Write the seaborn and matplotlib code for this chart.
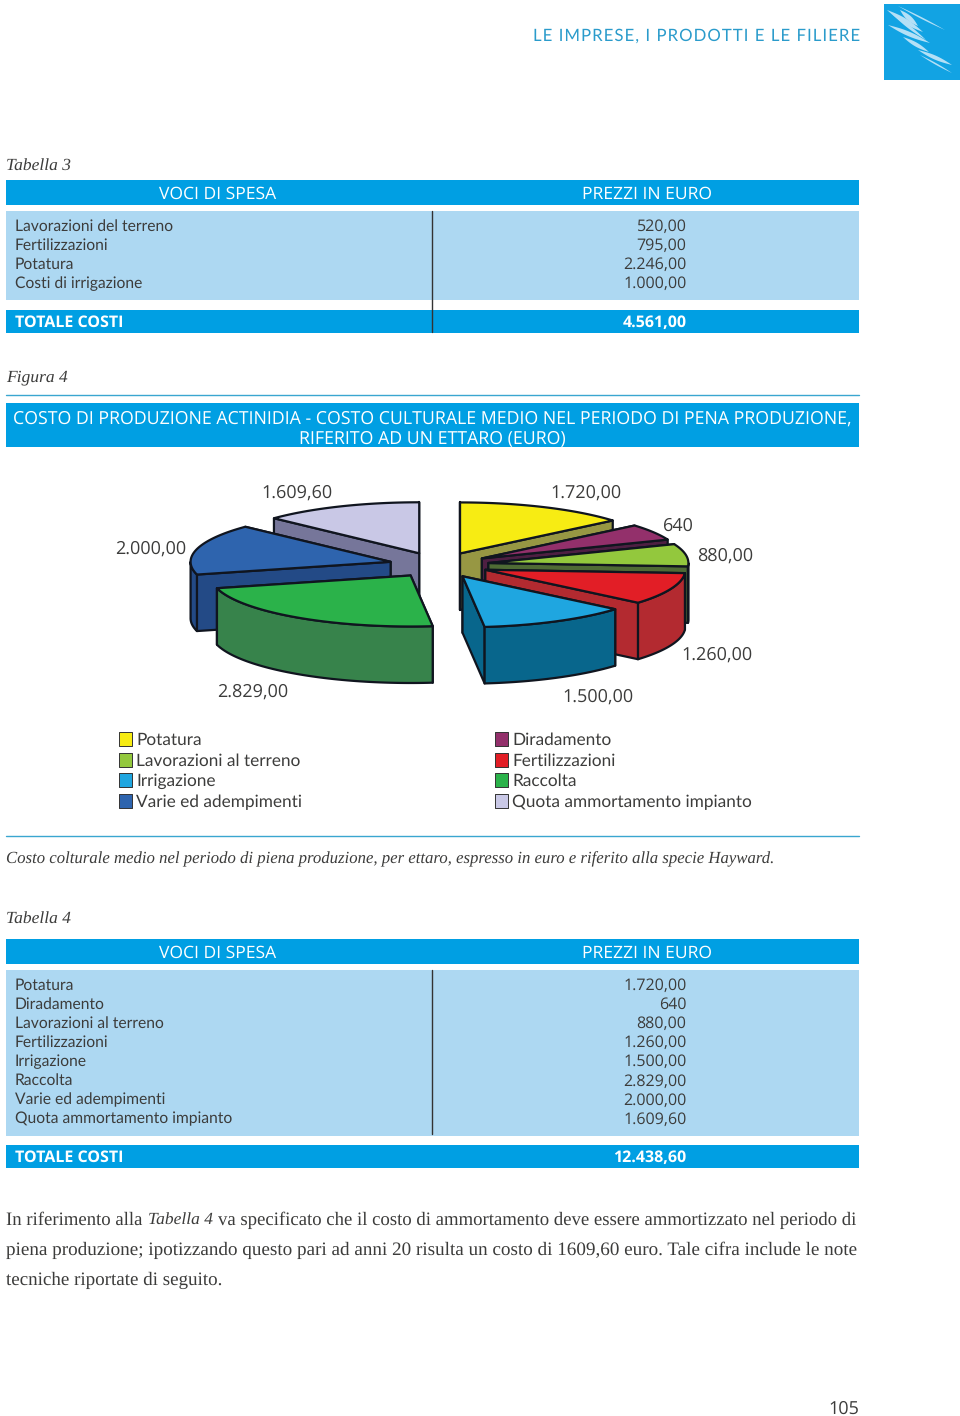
import numpy as np
import pandas as pd
import matplotlib
matplotlib.use('Agg')
import matplotlib.pyplot as plt
from matplotlib.patches import Polygon, Rectangle
import seaborn as sns

# pie data
voci = ['Potatura', 'Diradamento', 'Lavorazioni al terreno', 'Fertilizzazioni',
        'Irrigazione', 'Raccolta', 'Varie ed adempimenti', 'Quota ammortamento impianto']
costi = [1720.00, 640, 880.00, 1260.00, 1500.00, 2829.00, 2000.00, 1609.60]
etichette = ['1.720,00', '640', '880,00', '1.260,00', '1.500,00', '2.829,00', '2.000,00', '1.609,60']
top_colors = ['#F7EC13', '#93306B', '#93C83D', '#E21E26', '#1FA6E0', '#2BB24A', '#2E64AE', '#C9C8E6']
side_colors = ['#979743', '#4E1F42', '#4F6B35', '#B32A30', '#08668C', '#37834B', '#234A86', '#76769A']
label_xy = [(586, 491), (678, 524), (725, 554), (717, 653), (598, 695), (253, 690), (151, 547), (297, 491)]

# tables
t3_voci = ['Lavorazioni del terreno', 'Fertilizzazioni', 'Potatura', 'Costi di irrigazione']
t3_prezzi = ['520,00', '795,00', '2.246,00', '1.000,00']
t3_totale = '4.561,00'
t4_voci = voci
t4_prezzi = etichette
t4_totale = '12.438,60'

BLUE = '#009FE3'
LIGHT = '#ADD8F2'
INK = '#3C3C3B'
SANS = ['Open Sans', 'DejaVu Sans']
LOWER = 'Lato'
SERIF = 'Liberation Serif'

sns.set_theme(style='white')
plt.rcParams['font.family'] = SANS
plt.rcParams['text.hinting'] = 'no_hinting'

fig = plt.figure(figsize=(9.6, 14.16), dpi=100)
ax = fig.add_axes([0, 0, 1, 1])


def txt(x, y, s, size=16, color=INK, ha='left', **kw):
    # y is the middle of the capitals, size in pixels
    return ax.text(x, y + 0.36 * size, s, fontsize=size * 0.72, color=color, ha=ha, va='baseline', **kw)


def box(x0, y0, x1, y1, color):
    ax.add_patch(Rectangle((x0, y0), x1 - x0, y1 - y0, facecolor=color, edgecolor='none', zorder=1))


def table(title, title_y, top, righe, prezzi, totale, body_h, total_top):
    txt(6, title_y, title, size=17.5, family=SERIF, style='italic')
    box(6, top, 859, top + 25, BLUE)
    txt(218, top + 13, 'VOCI DI SPESA', size=17.5, color='white', ha='center')
    txt(647, top + 13, 'PREZZI IN EURO', size=17.5, color='white', ha='center')
    box(6, top + 31, 859, top + 31 + body_h, LIGHT)
    for i, (r, p) in enumerate(zip(righe, prezzi)):
        y = top + 45 + i * 19.15
        txt(15, y, r, size=15.6, family=LOWER)
        txt(686.5, y, p, ha='right')
    box(6, total_top, 859, total_top + 23, BLUE)
    txt(15, total_top + 11.5, 'TOTALE COSTI', color='white', weight='bold')
    txt(686.5, total_top + 11.5, totale, color='white', ha='right', weight='bold')


def pie3d(values, tops, sides, cx=439, cy=565, a=200, b=51, depth=56.5, explode=0.25):
    df = pd.DataFrame({'val': values, 'top': tops, 'side': sides})
    edges = np.cumsum([0] + list(df['val'])) / df['val'].sum() * 2 * np.pi
    df['start'] = edges[:-1]
    df['end'] = edges[1:]
    df['mid'] = (df['start'] + df['end']) / 2
    # back slices first
    df = df.sort_values('mid', key=lambda m: -np.cos(m))
    line = dict(edgecolor='#10151F', linewidth=1.6, joinstyle='round')
    for _, r in df.iterrows():
        ox = cx + explode * a * np.sin(r['mid'])
        oy = cy - explode * b * np.cos(r['mid'])
        th = np.linspace(r['start'], r['end'], 80)
        arc = np.column_stack([ox + a * np.sin(th), oy - b * np.cos(th)])
        apex = np.array([ox, oy])
        drop = np.array([0, depth])
        # the wall further back goes first so the near one covers it
        for end in sorted((arc[0], arc[-1]), key=lambda e: e[1]):
            ax.add_patch(Polygon([apex, end, end + drop, apex + drop], facecolor=r['side'], zorder=3, **line))
        lo, hi = max(r['start'], np.pi / 2), min(r['end'], 3 * np.pi / 2)
        if hi > lo:
            th = np.linspace(lo, hi, 60)
            front = np.column_stack([ox + a * np.sin(th), oy - b * np.cos(th)])
            ax.add_patch(Polygon(np.vstack([front, (front + drop)[::-1]]), facecolor=r['side'], zorder=3, **line))
        ax.add_patch(Polygon(np.vstack([apex, arc]), facecolor=r['top'], zorder=3, **line))


# header
txt(860, 34.5, '\u200a'.join('LE IMPRESE, I PRODOTTI E LE FILIERE'), size=16.7, color='#2A9BCB', ha='right',
    family=['Lato', 'DejaVu Sans'])
box(884, 4, 960, 80, '#12A3E3')
# logo strokes, thin at both ends
streaks = [((898, 6), (945, 30), 1.6), ((887, 10), (923, 32), 5), ((900, 10), (918, 26), 5),
           ((888, 25), (930, 43), 4.5), ((903, 37), (929, 52), 4), ((918, 50), (952, 65), 4),
           ((920, 55), (952, 73), 1.6), ((892, 14), (926, 40), 3)]
for p0, p1, w in streaks:
    t = np.linspace(0, 1, 30)
    d = np.array(p1) - np.array(p0)
    n = np.array([-d[1], d[0]]) / np.hypot(*d)
    mid = np.outer(t, d) + np.array(p0)
    half = w / 2 * np.sin(np.pi * t)[:, None] * n
    ax.add_patch(Polygon(np.vstack([mid + half, (mid - half)[::-1]]), facecolor='#B5E0F6', edgecolor='none', zorder=2))

table('Tabella 3', 164, 180, t3_voci, t3_prezzi, t3_totale, 89, 310)
ax.plot([432, 432], [211, 332], color='#333333', lw=1, zorder=2)

# figure 4
txt(6, 375, 'Figura 4', size=17.5, family=SERIF, style='italic')
ax.plot([6, 859], [395, 395], color='#3AA6D0', lw=1, zorder=2)
box(6, 403, 859, 447, BLUE)
txt(432, 417.5, 'COSTO DI PRODUZIONE ACTINIDIA - COSTO CULTURALE MEDIO NEL PERIODO DI PENA PRODUZIONE,',
    size=17.8, color='white', ha='center')
txt(432, 436.5, 'RIFERITO AD UN ETTARO (EURO)', size=17.8, color='white', ha='center')

pie3d(costi, top_colors, side_colors)
for (x, y), s in zip(label_xy, etichette):
    txt(x, y, s, size=18, ha='center')

# legend, two columns read across
sw = pd.DataFrame({'voce': voci})
sw['x'] = [125.5, 501.5] * 4
sw['y'] = [739, 739, 760, 760, 780, 780, 801, 801]
sns.scatterplot(data=sw, x='x', y='y', hue='voce', palette=dict(zip(voci, top_colors)), marker='s', s=100,
                edgecolor='#333333', linewidth=0.7, legend=False, ax=ax, zorder=3)
for _, r in sw.iterrows():
    txt(r['x'] + 10.5, r['y'], r['voce'], size=17.2, family=LOWER)

ax.plot([6, 859], [836, 836], color='#3AA6D0', lw=1, zorder=2)
txt(6, 857, 'Costo colturale medio nel periodo di piena produzione, per ettaro, espresso in euro e riferito alla specie Hayward.',
    size=16.75, family=SERIF, style='italic')

table('Tabella 4', 917, 939, t4_voci, t4_prezzi, t4_totale, 166, 1145)
ax.plot([432, 432], [970, 1134], color='#333333', lw=1, zorder=2)

# closing paragraph
txt(6, 1218, 'In riferimento alla', size=18.8, family=SERIF)
txt(148, 1218, 'Tabella 4', size=17.5, family=SERIF, style='italic')
txt(218, 1218, 'va specificato che il costo di ammortamento deve essere ammortizzato nel periodo di', size=18.8, family=SERIF)
txt(6, 1248, 'piena produzione; ipotizzando questo pari ad anni 20 risulta un costo di 1609,60 euro. Tale cifra include le note',
    size=19.15, family=SERIF)
txt(6, 1278, 'tecniche riportate di seguito.', size=19, family=SERIF)

txt(859, 1407, '105', size=18, ha='right')

ax.set_xlim(0, 960)
ax.set_ylim(1416, 0)
ax.axis('off')
fig.savefig('out.png', dpi=100, facecolor='white')
